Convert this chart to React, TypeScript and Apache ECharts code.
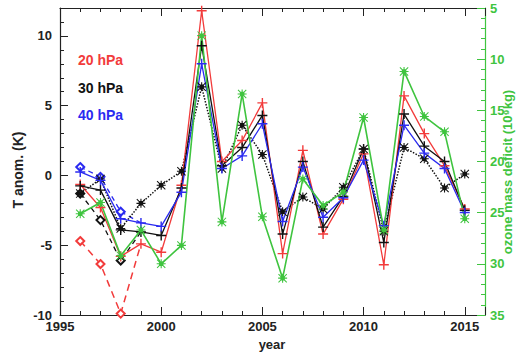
import React, { useEffect, useRef } from 'react';
import * as echarts from 'echarts';

const years = [1996, 1997, 1998, 1999, 2000, 2001, 2002, 2003, 2004, 2005, 2006, 2007, 2008, 2009, 2010, 2011, 2012, 2013, 2014, 2015];
const t20 = [-0.65, -2.3, -5.8, -4.9, -5.5, -0.7, 11.8, 1.0, 2.5, 5.2, -5.6, 1.8, -4.2, -1.7, 1.55, -6.4, 5.7, 3.0, 0.7, -2.4];
const t30 = [-0.75, -1.05, -3.9, -4.05, -4.3, -0.9, 9.3, 0.7, 2.0, 4.3, -4.2, 1.0, -3.7, -1.5, 1.9, -4.8, 4.4, 2.1, 1.0, -2.5];
const t40 = [0.25, -0.35, -3.1, -3.4, -3.65, -1.2, 8.0, 0.5, 1.4, 3.7, -3.3, 0.6, -3.0, -1.6, 1.1, -3.6, 3.6, 1.6, 0.5, -2.65];
const tDotted = [-1.3, -0.25, -3.8, -2.0, -0.7, 0.3, 6.35, 0.5, 3.6, 1.5, -2.6, -1.55, -2.4, -0.85, 1.9, -4.0, 2.0, 1.2, -0.9, 0.1];
const ozone = [25.1, 24.0, 29.2, 26.7, 30.0, 28.2, 7.7, 25.9, 13.4, 25.4, 31.4, 21.7, 24.3, 23.0, 15.7, 26.7, 11.2, 15.6, 17.1, 25.6];

const earlyYears = [1996, 1997, 1998, 1999];
const red20Early = [-4.7, -6.35, -9.9, -4.9];
const black30Early = [-1.3, -3.2, -6.1, -4.05];
const blue40Early = [0.6, -0.1, -2.6, -3.4];

const legendLabels = ['20 hPa', '30 hPa', '40 hPa'];

const RED = '#f23b3b';
const BLACK = '#111111';
const BLUE = '#2a2af0';
const GREEN = '#3fc43f';
const AXIS = '#222222';
const FONT = 'Liberation Sans, Arial, sans-serif';

const PLUS = 'path://M4.3,0h1.4v4.3h4.3v1.4h-4.3v4.3h-1.4v-4.3h-4.3v-1.4h4.3z';
const AST = 'path://M4.4,0h1.2v10h-1.2z M0,4.4h10v1.2h-10z M0.8,0L10,9.2L9.2,10L0,0.8z M9.2,0L10,0.8L0.8,10L0,9.2z M2.5,2.5h5v5h-5z';

function pairs(xs: number[], ys: number[]) {
  return xs.map((x, i) => [x, ys[i]]);
}

function earlyData(ys: number[]) {
  return earlyYears.map((x, i) =>
    i === earlyYears.length - 1 ? { value: [x, ys[i]], symbol: 'none' } : { value: [x, ys[i]] }
  );
}

export default function App() {
  const ref = useRef<HTMLDivElement>(null);
  useEffect(() => {
    const chart = echarts.init(ref.current!, null, { renderer: 'svg' });
    const lbl = { fontSize: 13, fontWeight: 'bold' as const, color: AXIS, fontFamily: FONT };
    const baseX = {
      type: 'value' as const,
      min: 1995,
      max: 2016,
      splitLine: { show: false },
      axisLine: { show: true, onZero: false, lineStyle: { color: AXIS, width: 1.2 } },
    };
    const option: any = {
      animation: false,
      backgroundColor: '#ffffff',
      grid: { left: 60, right: 34, top: 8, bottom: 37 },
      xAxis: [
        {
          ...baseX,
          position: 'bottom',
          interval: 5,
          axisTick: { show: true, inside: true, length: 8, lineStyle: { color: AXIS } },
          axisLabel: { ...lbl, margin: 5, formatter: (v: number) => (v % 5 === 0 ? String(v) : '') },
        },
        {
          ...baseX,
          position: 'top',
          interval: 5,
          axisTick: { show: true, inside: true, length: 8, lineStyle: { color: AXIS } },
          axisLabel: { show: false },
        },
        {
          ...baseX,
          position: 'bottom',
          interval: 1,
          axisLine: { show: false, onZero: false },
          axisTick: { show: true, inside: true, length: 4, lineStyle: { color: AXIS } },
          axisLabel: { show: false },
        },
        {
          ...baseX,
          position: 'top',
          interval: 1,
          axisLine: { show: false, onZero: false },
          axisTick: { show: true, inside: true, length: 4, lineStyle: { color: AXIS } },
          axisLabel: { show: false },
        },
      ],
      yAxis: [
        {
          type: 'value',
          position: 'left',
          min: -10,
          max: 12,
          interval: 5,
          splitLine: { show: false },
          axisLine: { show: true, onZero: false, lineStyle: { color: AXIS, width: 1.2 } },
          axisTick: { show: true, inside: true, length: 8, lineStyle: { color: AXIS } },
          axisLabel: { ...lbl, margin: 8, formatter: (v: number) => (v % 5 === 0 ? String(v) : '') },
        },
        {
          type: 'value',
          position: 'right',
          inverse: true,
          min: 5,
          max: 35,
          interval: 5,
          splitLine: { show: false },
          axisLine: { show: true, onZero: false, lineStyle: { color: GREEN, width: 1.2 } },
          axisTick: { show: true, inside: true, length: 8, lineStyle: { color: GREEN } },
          minorTick: { show: true, splitNumber: 5, length: 4, lineStyle: { color: GREEN } },
          axisLabel: { ...lbl, color: GREEN, margin: 5 },
        },
        {
          type: 'value',
          position: 'left',
          min: -10,
          max: 12,
          interval: 1,
          splitLine: { show: false },
          axisLine: { show: false, onZero: false },
          axisTick: { show: true, inside: true, length: 4, lineStyle: { color: AXIS } },
          axisLabel: { show: false },
        },
      ],
      graphic: [
        { type: 'text', left: 78, top: 53, style: { text: legendLabels[0], fill: RED, font: `bold 14px ${FONT}` } },
        { type: 'text', left: 78, top: 81, style: { text: legendLabels[1], fill: BLACK, font: `bold 14px ${FONT}` } },
        { type: 'text', left: 78, top: 108, style: { text: legendLabels[2], fill: BLUE, font: `bold 14px ${FONT}` } },
        {
          type: 'text', x: 18, y: 170, rotation: Math.PI / 2,
          style: { text: 'T anom. (K)', fill: AXIS, font: `bold 14px ${FONT}`, align: 'center', verticalAlign: 'middle' },
        },
        {
          type: 'text', x: 272, y: 344,
          style: { text: 'year', fill: AXIS, font: `bold 13px ${FONT}`, align: 'center', verticalAlign: 'middle' },
        },
        {
          type: 'text', x: 507, y: 172, rotation: Math.PI / 2,
          style: { text: 'ozone mass deficit (10⁹kg)', fill: GREEN, font: `bold 13px ${FONT}`, align: 'center', verticalAlign: 'middle' },
        },
      ],
      series: [
        {
          type: 'line', xAxisIndex: 0, yAxisIndex: 0, data: earlyData(blue40Early),
          symbol: 'emptyDiamond', symbolSize: 8,
          lineStyle: { color: BLUE, width: 1.3, type: [5, 4] }, itemStyle: { color: BLUE, borderColor: BLUE, borderWidth: 1.2 },
        },
        {
          type: 'line', xAxisIndex: 0, yAxisIndex: 0, data: earlyData(red20Early),
          symbol: 'emptyDiamond', symbolSize: 8,
          lineStyle: { color: RED, width: 1.5, type: [7, 5] }, itemStyle: { color: RED, borderColor: RED, borderWidth: 1.2 },
        },
        {
          type: 'line', xAxisIndex: 0, yAxisIndex: 0, data: earlyData(black30Early),
          symbol: 'emptyDiamond', symbolSize: 8,
          lineStyle: { color: BLACK, width: 1.3, type: [5, 4] }, itemStyle: { color: BLACK, borderColor: BLACK, borderWidth: 1.2 },
        },
        {
          type: 'line', xAxisIndex: 0, yAxisIndex: 0, data: pairs(years, tDotted),
          symbol: AST, symbolSize: 9,
          lineStyle: { color: BLACK, width: 1.5, type: 'dotted' }, itemStyle: { color: BLACK },
        },
        {
          type: 'line', xAxisIndex: 0, yAxisIndex: 0, data: pairs(years, t20),
          symbol: PLUS, symbolSize: 10,
          lineStyle: { color: RED, width: 1.3 }, itemStyle: { color: RED },
        },
        {
          type: 'line', xAxisIndex: 0, yAxisIndex: 0, data: pairs(years, t30),
          symbol: PLUS, symbolSize: 10,
          lineStyle: { color: BLACK, width: 1.3 }, itemStyle: { color: BLACK },
        },
        {
          type: 'line', xAxisIndex: 0, yAxisIndex: 0, data: pairs(years, t40),
          symbol: PLUS, symbolSize: 10,
          lineStyle: { color: BLUE, width: 1.3 }, itemStyle: { color: BLUE },
        },
        {
          type: 'line', xAxisIndex: 0, yAxisIndex: 1, data: pairs(years, ozone),
          symbol: AST, symbolSize: 9,
          lineStyle: { color: GREEN, width: 1.6 }, itemStyle: { color: GREEN },
        },
      ],
    };
    chart.setOption(option);
    return () => chart.dispose();
  }, []);
  return (
    <div
      ref={ref}
      style={{ position: 'fixed', left: 0, top: 0, width: 519, height: 352, background: '#fff' }}
    />
  );
}
